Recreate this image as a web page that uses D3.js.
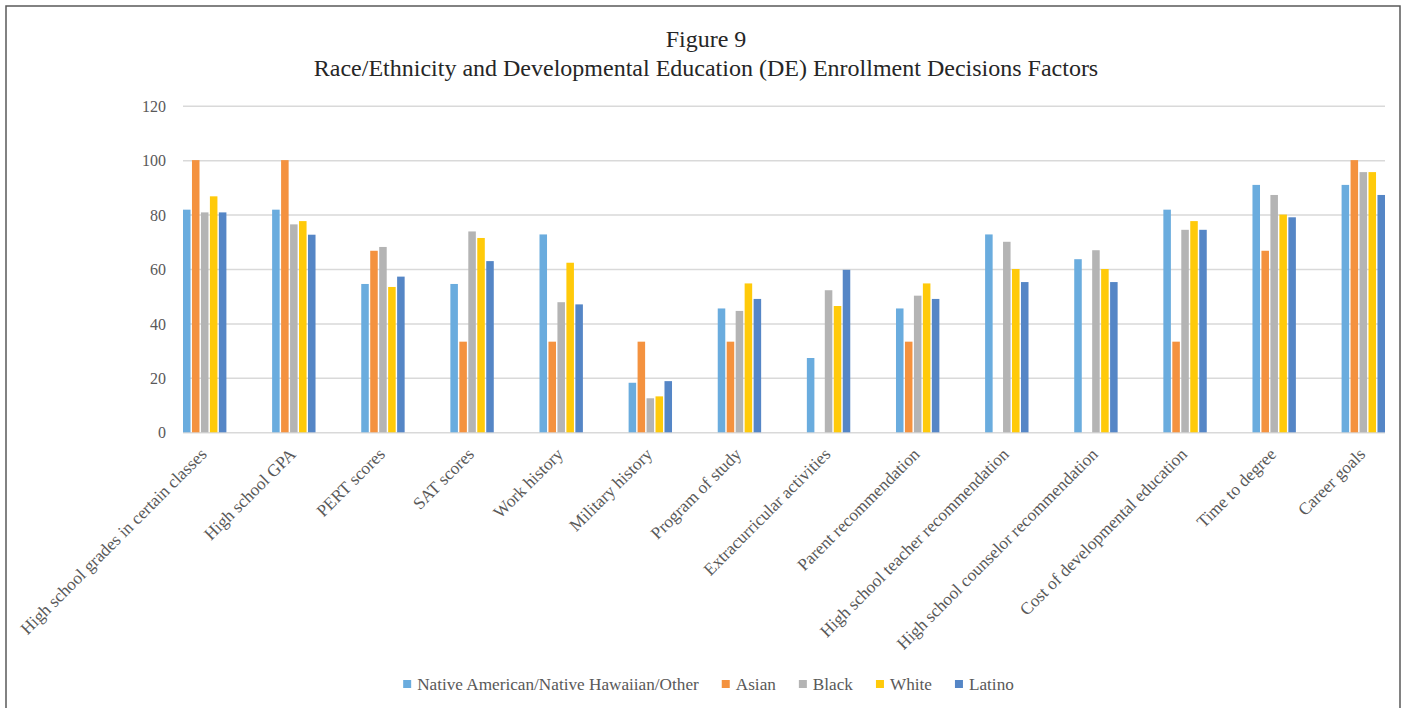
<!DOCTYPE html>
<html>
<head>
<meta charset="utf-8">
<script src="https://cdn.jsdelivr.net/npm/d3@7"></script>
<style>
  html, body { margin: 0; padding: 0; background: #ffffff; }
  svg { display: block; }
  text { font-family: "Liberation Serif", "Times New Roman", serif; }
</style>
</head>
<body>
<svg id="chart" width="1402" height="708"></svg>
<script>
// Enrollment decision factors (x-axis categories)
const categories = [
  "High school grades in certain classes",
  "High school GPA",
  "PERT scores",
  "SAT scores",
  "Work history",
  "Military history",
  "Program of study",
  "Extracurricular activities",
  "Parent recommendation",
  "High school teacher recommendation",
  "High school counselor recommendation",
  "Cost of developmental education",
  "Time to degree",
  "Career goals"
];

// Percent of each group citing the factor
const nativeAmerican = [81.8, 81.8, 54.5, 54.5, 72.7, 18.2, 45.5, 27.3, 45.5, 72.7, 63.6, 81.8, 90.9, 90.9];
const asian          = [100, 100, 66.7, 33.3, 33.3, 33.3, 33.3, 0, 33.3, 0, 0, 33.3, 66.7, 100];
const black          = [80.8, 76.4, 68.1, 73.8, 47.8, 12.5, 44.6, 52.2, 50.2, 70.0, 66.9, 74.4, 87.2, 95.6];
const white          = [86.7, 77.6, 53.4, 71.4, 62.3, 13.2, 54.7, 46.4, 54.7, 60.0, 60.0, 77.6, 80.0, 95.6];
const latino         = [80.8, 72.6, 57.2, 62.9, 47.0, 18.8, 49.0, 59.7, 49.0, 55.2, 55.2, 74.4, 79.0, 87.2];

const seriesNames  = ["Native American/Native Hawaiian/Other", "Asian", "Black", "White", "Latino"];
const seriesValues = [nativeAmerican, asian, black, white, latino];
const seriesColors = ["#6aacde", "#f4923f", "#b4b4b4", "#ffca0a", "#5586c6"];

const yTicks = [0, 20, 40, 60, 80, 100, 120];

const titleLines = [
  "Figure 9",
  "Race/Ethnicity and Developmental Education (DE) Enrollment Decisions Factors"
];

const svg = d3.select("#chart");
const textColor = "#595959";
const serif = "Liberation Serif, Times New Roman, serif";

// Outer frame
svg.append("rect")
  .attr("x", 6).attr("y", 6)
  .attr("width", 1394).attr("height", 720)
  .attr("fill", "none")
  .attr("stroke", "#595959")
  .attr("stroke-width", 1.5);

// Title
svg.append("g").selectAll("text")
  .data(titleLines)
  .join("text")
  .attr("x", 706)
  .attr("y", (d, i) => 47 + i * 29)
  .attr("text-anchor", "middle")
  .attr("font-size", 24)
  .attr("font-family", serif)
  .attr("fill", "#262626")
  .text(d => d);

// Scales
const plot = { left: 183, right: 1385, top: 105.7, bottom: 432.3 };

const y = d3.scaleLinear().domain([0, 120]).range([plot.bottom, plot.top]);

const x0 = d3.scaleBand()
  .domain(categories)
  .range([plot.left, plot.right])
  .paddingInner(0.513)
  .paddingOuter(0);

const x1 = d3.scaleBand()
  .domain(d3.range(seriesNames.length))
  .range([0, x0.bandwidth()])
  .paddingInner(0.16)
  .paddingOuter(0);

// Gridlines and y tick labels
const yAxis = d3.axisLeft(y).tickValues(yTicks).tickSize(0).tickPadding(0);
const yG = svg.append("g").attr("transform", `translate(${plot.left},0)`).call(yAxis);
yG.attr("font-family", serif);
yG.select(".domain").remove();
yG.selectAll(".tick text")
  .attr("x", -17)
  .attr("dy", "0.35em")
  .attr("font-size", 16)
  .attr("font-family", serif)
  .attr("fill", textColor);
yG.selectAll(".tick").append("line")
  .attr("x1", 0).attr("x2", plot.right - plot.left)
  .attr("stroke", "#d9d9d9")
  .attr("stroke-width", 1.5);

// Bars
const groups = svg.append("g").selectAll("g")
  .data(categories)
  .join("g")
  .attr("transform", d => `translate(${x0(d)},0)`);

groups.selectAll("rect")
  .data((d, ci) => seriesValues.map((vals, si) => ({ si, v: vals[ci] })))
  .join("rect")
  .attr("x", d => x1(d.si))
  .attr("width", x1.bandwidth())
  .attr("y", d => y(d.v))
  .attr("height", d => y(0) - y(d.v))
  .attr("fill", d => seriesColors[d.si]);

// Category labels, rotated
const xAxis = d3.axisBottom(x0).tickSize(0).tickPadding(0);
const xG = svg.append("g").attr("transform", `translate(0,${plot.bottom})`).call(xAxis);
xG.attr("font-family", serif);
xG.select(".domain").remove();
xG.selectAll(".tick text")
  .attr("font-size", 17.3)
  .attr("font-family", serif)
  .attr("fill", textColor)
  .attr("text-anchor", "end")
  .attr("dy", null)
  .attr("y", 0)
  .attr("transform", "translate(3,23) rotate(-45)");

// Legend
const legend = svg.append("g");
const items = legend.selectAll("g")
  .data(seriesNames)
  .join("g");
items.append("rect")
  .attr("width", 8).attr("height", 8)
  .attr("y", -8)
  .attr("fill", (d, i) => seriesColors[i]);
items.append("text")
  .attr("x", 14)
  .attr("y", 0)
  .attr("dy", "0.1em")
  .attr("font-size", 17.2)
  .attr("font-family", serif)
  .attr("fill", textColor)
  .text(d => d);

let cursor = 0;
const offsets = [];
items.each(function () {
  offsets.push(cursor);
  const w = d3.select(this).select("text").node().getComputedTextLength();
  cursor += 14 + w + 23;
});
const legendWidth = cursor - 23;
const legendStart = 708.5 - legendWidth / 2;
items.attr("transform", (d, i) => `translate(${legendStart + offsets[i]},688)`);
</script>
</body>
</html>
